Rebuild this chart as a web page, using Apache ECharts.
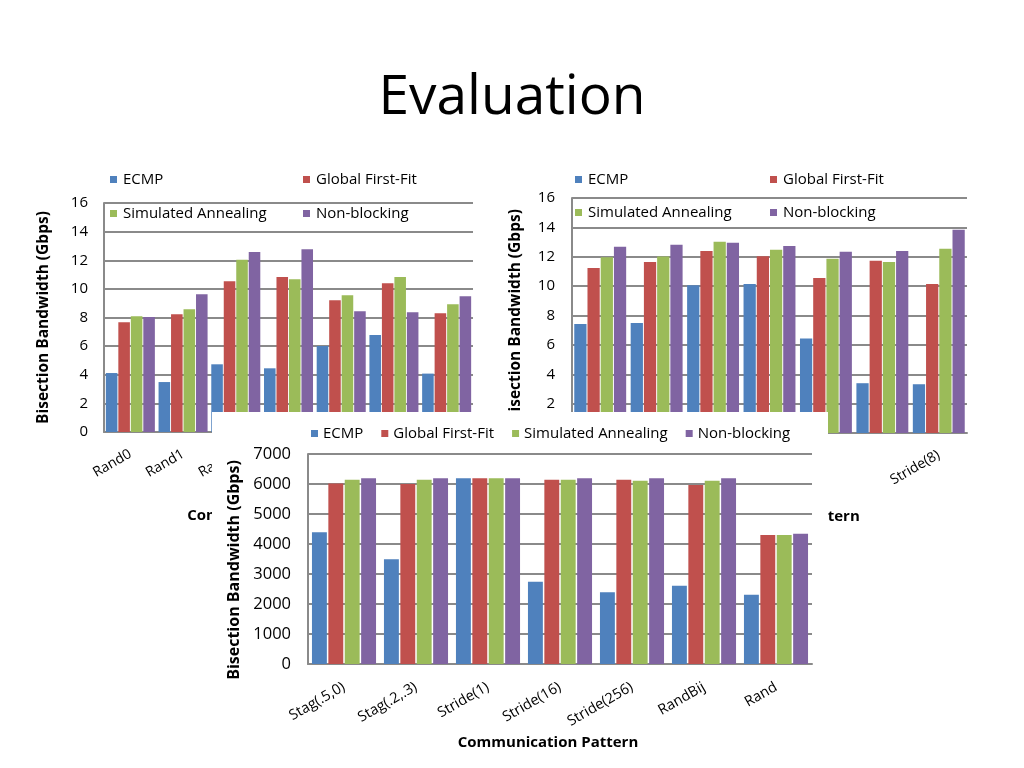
<!DOCTYPE html>
<html>
<head>
<meta charset="utf-8">
<script src="https://cdn.jsdelivr.net/npm/echarts@6/dist/echarts.min.js"></script>
<style>
html,body{margin:0;padding:0;background:#fff;width:1024px;height:768px;overflow:hidden;}
#main{position:absolute;left:0;top:0;width:1024px;height:768px;}
#sim{position:absolute;left:212px;top:412px;width:616px;height:356px;background:#fff;z-index:2;}
</style>
</head>
<body>
<div id="main"></div>
<div id="sim"></div>
<script>
// ---------- data ----------
const slideTitle = 'Evaluation';
const seriesNames = ['ECMP', 'Global First-Fit', 'Simulated Annealing', 'Non-blocking'];
const yAxisTitle = 'Bisection Bandwidth (Gbps)';
const xAxisTitle = 'Communication Pattern';

// top-left chart (testbed, randomized patterns)
const randCats = ['Rand0', 'Rand1', 'Rand2', 'RandBij0', 'RandBij1', 'RandX(2)', 'Hotspot'];
const randECMP = [4.12, 3.49, 4.73, 4.45, 6.01, 6.78, 4.08];
const randGFF  = [7.66, 8.22, 10.53, 10.83, 9.20, 10.39, 8.29];
const randSA   = [8.08, 8.57, 12.04, 10.67, 9.55, 10.83, 8.92];
const randNB   = [8.03, 9.62, 12.58, 12.76, 8.43, 8.36, 9.48];

// top-right chart (testbed, staggered / stride patterns)
const stagCats = ['Stag0(.2,.3)', 'Stag1(.2,.3)', 'Stag0(.5,0)', 'Stag1(.5,0)', 'Stride(2)', 'Stride(4)', 'Stride(8)'];
const stagECMP = [7.42, 7.49, 10.06, 10.15, 6.44, 3.39, 3.32];
const stagGFF  = [11.24, 11.65, 12.40, 12.04, 10.56, 11.72, 10.15];
const stagSA   = [11.97, 12.02, 13.02, 12.47, 11.86, 11.65, 12.54];
const stagNB   = [12.68, 12.81, 12.95, 12.74, 12.34, 12.40, 13.84];

// bottom chart (simulation)
const simCats = ['Stag(.5,0)', 'Stag(.2,.3)', 'Stride(1)', 'Stride(16)', 'Stride(256)', 'RandBij', 'Rand'];
const simECMP = [4390, 3490, 6190, 2740, 2390, 2610, 2310];
const simGFF  = [6020, 6000, 6190, 6140, 6140, 5970, 4300];
const simSA   = [6140, 6140, 6190, 6140, 6110, 6110, 4300];
const simNB   = [6190, 6190, 6190, 6190, 6190, 6190, 4340];

// ---------- styling ----------
const FONT = '"Open Sans", Carlito, Calibri, sans-serif';
const COLORS = ['#4F81BD', '#C0504D', '#9BBB59', '#8064A2'];
const GRID_LINE = { color: '#8a8a8a', width: 2 };

function legendItem(name, left, top) {
  return {
    data: [name], left: left, top: top, padding: 0, orient: 'horizontal',
    icon: 'rect', itemWidth: 7, itemHeight: 7, itemGap: 6, selectedMode: false,
    textStyle: { fontFamily: FONT, fontSize: 15, color: '#000', padding: [0, 0, 0, 1] }
  };
}

function xAxisDef(gridIndex, cats, opts) {
  return Object.assign({
    type: 'category', gridIndex: gridIndex, data: cats,
    axisLine: { show: true, lineStyle: GRID_LINE },
    axisTick: { show: false },
    axisLabel: { rotate: 30, margin: 21, fontFamily: FONT, fontSize: 14, color: '#000', interval: 0 },
    name: xAxisTitle, nameLocation: 'middle', nameGap: 76,
    nameTextStyle: { fontFamily: FONT, fontSize: 15, fontWeight: 'bold', color: '#000' }
  }, opts || {});
}

function yAxisDef(gridIndex, max, interval, nameGap, margin, labelSize, nameSize) {
  return {
    type: 'value', gridIndex: gridIndex, min: 0, max: max, interval: interval,
    axisLine: { show: true, lineStyle: GRID_LINE },
    axisTick: { show: false },
    splitLine: { show: true, lineStyle: GRID_LINE },
    axisLabel: { margin: margin, fontFamily: FONT, fontSize: labelSize, color: '#000', formatter: v => String(v) },
    name: yAxisTitle, nameLocation: 'middle', nameGap: nameGap, nameRotate: 90,
    nameTextStyle: { fontFamily: FONT, fontSize: nameSize, fontWeight: 'bold', color: '#000' }
  };
}

function barSeries(xi, yi, arrays, barGap, catGap) {
  return arrays.map((arr, i) => ({
    type: 'bar', name: seriesNames[i], xAxisIndex: xi, yAxisIndex: yi,
    data: arr, barGap: barGap, barCategoryGap: catGap,
    itemStyle: { color: COLORS[i] }, animation: false
  }));
}

// ---------- main (top two charts) ----------
const main = echarts.init(document.getElementById('main'), null, { renderer: 'canvas' });
main.setOption({
  backgroundColor: '#fff',
  animation: false,
  color: COLORS,
  title: {
    text: slideTitle, left: 'center', top: 66,
    textStyle: { fontFamily: FONT, fontSize: 55, fontWeight: 'normal', color: '#000' }
  },
  legend: [
    legendItem(seriesNames[0], 110, 172),
    legendItem(seriesNames[1], 303, 172),
    legendItem(seriesNames[2], 110, 206),
    legendItem(seriesNames[3], 303, 206),
    legendItem(seriesNames[0], 575, 172),
    legendItem(seriesNames[1], 770, 172),
    legendItem(seriesNames[2], 575, 205),
    legendItem(seriesNames[3], 770, 205)
  ],
  grid: [
    { left: 104, top: 203, width: 369, height: 229, containLabel: false },
    { left: 572, top: 198, width: 395, height: 235, containLabel: false }
  ],
  xAxis: [
    xAxisDef(0, randCats, { nameTextStyle: { fontFamily: FONT, fontSize: 15, fontWeight: 'bold', color: '#000', padding: [0, 22, 0, 0] } }),
    xAxisDef(1, stagCats, { axisLabel: { rotate: 30, margin: 21, fontFamily: FONT, fontSize: 14, color: '#000', interval: 1 } })
  ],
  yAxis: [
    yAxisDef(0, 16, 2, 52, 16, 15, 15.5),
    yAxisDef(1, 16, 2, 48, 17, 15, 15.5)
  ],
  series: [].concat(
    barSeries(0, 0, [randECMP, randGFF, randSA, randNB], '8%', '7%'),
    barSeries(1, 1, [stagECMP, stagGFF, stagSA, stagNB], '8%', '8%')
  )
});

// ---------- bottom chart (overlaid panel) ----------
const sim = echarts.init(document.getElementById('sim'), null, { renderer: 'canvas' });
sim.setOption({
  backgroundColor: '#fff',
  animation: false,
  color: COLORS,
  legend: {
    data: seriesNames, left: 99, top: 14, padding: 0,
    icon: 'rect', itemWidth: 7, itemHeight: 7, itemGap: 18, selectedMode: false,
    textStyle: { fontFamily: FONT, fontSize: 15, color: '#000' }
  },
  grid: { left: 96, top: 42, width: 504, height: 210, containLabel: false },
  xAxis: xAxisDef(0, simCats, {
    nameGap: 70,
    nameTextStyle: { fontFamily: FONT, fontSize: 15, fontWeight: 'bold', color: '#000', padding: [0, 24, 0, 0] },
    axisLabel: { rotate: 30, margin: 22, fontFamily: FONT, fontSize: 14.5, color: '#000', interval: 0 }
  }),
  yAxis: (function () {
    const y = yAxisDef(0, 7000, 1000, 65, 17, 16.5, 16);
    y.nameTextStyle.padding = [0, 22, 0, 0];
    return y;
  })(),
  series: barSeries(0, 0, [simECMP, simGFF, simSA, simNB], '10%', '11%')
});
</script>
</body>
</html>
